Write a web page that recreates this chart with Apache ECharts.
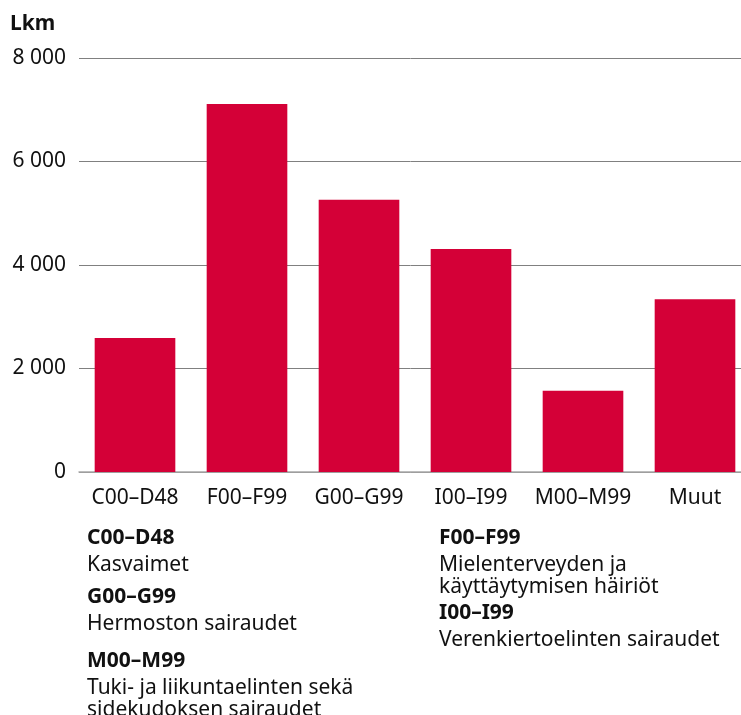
<!DOCTYPE html>
<html>
<head>
<meta charset="utf-8">
<script src="https://cdn.jsdelivr.net/npm/echarts@6/dist/echarts.min.js"></script>
<style>
  html, body { margin: 0; padding: 0; background: #fff; }
  #chart { width: 741px; height: 715px; }
</style>
</head>
<body>
<div id="chart"></div>
<script>
const categories = ['C00–D48', 'F00–F99', 'G00–G99', 'I00–I99', 'M00–M99', 'Muut']
const values = [2590, 7110, 5260, 4310, 1570, 3340]
const yTicks = { min: 0, max: 8000, interval: 2000 }

// selitteet kaavion alla: [koodi, kuvaus]
const notesLeft = [
  ['C00–D48', 'Kasvaimet'],
  ['G00–G99', 'Hermoston sairaudet'],
  ['M00–M99', 'Tuki- ja liikuntaelinten sekä\nsidekudoksen sairaudet']
]
const notesRight = [
  ['F00–F99', 'Mielenterveyden ja\nkäyttäytymisen häiriöt'],
  ['I00–I99', 'Verenkiertoelinten sairaudet']
]

const font = '"Noto Sans", sans-serif'
const fs = 21
const chart = echarts.init(document.getElementById('chart'))

const noteBlock = (notes, x, tops) => {
  const out = []
  notes.forEach((n, i) => {
    out.push({
      type: 'text', left: x, top: tops[i],
      style: { text: n[0], font: 'bold ' + fs + 'px ' + font, fill: '#111', lineHeight: 22 }
    })
    out.push({
      type: 'text', left: x, top: tops[i] + 27,
      style: { text: n[1], font: fs + 'px ' + font, fill: '#111', lineHeight: 22 }
    })
  })
  return out
}

chart.setOption({
  animation: false,
  grid: { left: 79, width: 672, top: 58, bottom: 243, outerBoundsMode: 'none' },
  xAxis: {
    type: 'category',
    data: categories,
    axisLine: { lineStyle: { color: '#a8a8a8', width: 1.5 } },
    axisTick: { show: false },
    axisLabel: { interval: 0, color: '#111', fontSize: fs, fontFamily: font, margin: 16 }
  },
  yAxis: {
    type: 'value',
    min: yTicks.min,
    max: yTicks.max,
    interval: yTicks.interval,
    axisLabel: {
      color: '#111', fontSize: fs, fontFamily: font, margin: 13, padding: [4, 0, 0, 0],
      formatter: v => String(v).replace(/\B(?=(\d{3})+(?!\d))/g, ' ')
    },
    splitLine: { lineStyle: { color: '#808080', width: 1 } }
  },
  series: [{
    type: 'bar',
    data: values,
    barCategoryGap: '28%',
    itemStyle: { color: '#d40037' }
  }],
  graphic: [
    {
      type: 'text', left: 10, top: 13,
      style: { text: 'Lkm', font: 'bold ' + fs + 'px ' + font, fill: '#111', lineHeight: 22 }
    },
    ...noteBlock(notesLeft, 87, [527, 586, 650]),
    ...noteBlock(notesRight, 439, [527, 602])
  ]
})
</script>
</body>
</html>
